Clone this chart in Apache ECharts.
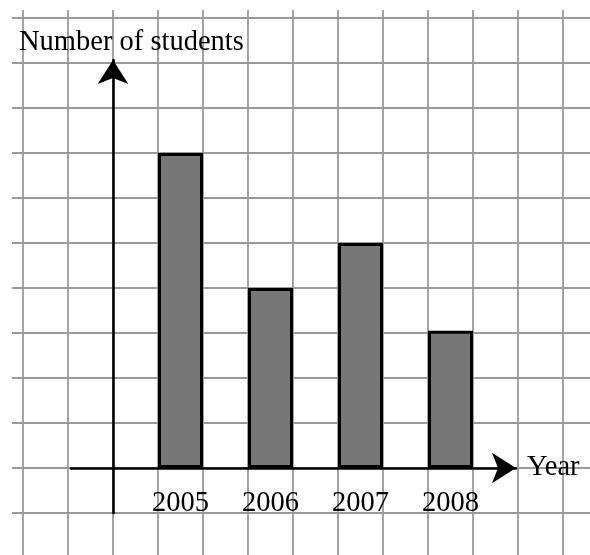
<!DOCTYPE html>
<html>
<head>
<meta charset="utf-8">
<script src="https://cdn.jsdelivr.net/npm/echarts@6/dist/echarts.min.js"></script>
<style>
html,body{margin:0;padding:0;background:#fff;}
#chart{width:590px;height:555px;}
</style>
</head>
<body>
<div id="chart"></div>
<script>
// ---- data ----
const years = ['2005', '2006', '2007', '2008'];
const students = [7, 4, 5, 3.05];
const yTitle = 'Number of students';
const xTitle = 'Year';

// ---- layout constants ----
const W = 590, H = 555;
const U = 45;            // size of one grid square (px)
const OX = 113, OY = 468; // origin of the axes (px)
const FONT = 'Liberation Serif';
const FS = 28.5;
const gridColor = '#9a9a9a';

const hidden = {
  axisLine: { show: false }, axisTick: { show: false },
  axisLabel: { show: false }, splitLine: { show: false }
};

// arrow axis extents
const axL = 71, axR = 516, axT = 60, axB = 513;

const chart = echarts.init(document.getElementById('chart'), null, { renderer: 'canvas' });
chart.setOption({
  animation: false,
  backgroundColor: '#ffffff',
  title: {
    text: yTitle, left: 19, top: 28, padding: 0,
    textStyle: { fontFamily: FONT, fontSize: FS, fontWeight: 'normal', color: '#000' }
  },
  grid: [
    // 0: vertical mesh lines
    { left: 23, right: W - 563, top: 10, bottom: 0 },
    // 1: horizontal mesh lines
    { left: 12, right: 0, top: 18, bottom: H - 513 },
    // 2: bars
    { left: OX + U * 0.5, right: W - (OX + U * 8.5), top: OY - U * 10, bottom: H - OY },
    // 3: arrow axes
    { left: axL, right: W - axR, top: axT, bottom: H - axB }
  ],
  xAxis: [
    { gridIndex: 0, type: 'value', min: -2, max: 10, interval: 1,
      axisLine: { show: false }, axisTick: { show: false }, axisLabel: { show: false },
      splitLine: { show: true, lineStyle: { color: gridColor, width: 1.8 } } },
    Object.assign({ gridIndex: 1, type: 'value', min: 0, max: 1 }, hidden),
    { gridIndex: 2, type: 'category', data: years, boundaryGap: true,
      axisLine: { show: false }, axisTick: { show: false }, splitLine: { show: false },
      axisLabel: { show: true, margin: 21, fontFamily: FONT, fontSize: FS, color: '#000' } },
    { gridIndex: 3, type: 'value', min: (axL - OX) / U, max: (axR - OX) / U, z: 1,
      axisLine: { show: true, onZero: true, symbol: ['none', 'arrow'], symbolSize: [23, 24],
        lineStyle: { color: '#000', width: 2.6 } },
      axisTick: { show: false }, axisLabel: { show: false }, splitLine: { show: false },
      name: xTitle, nameLocation: 'end', nameGap: 11,
      nameTextStyle: { fontFamily: FONT, fontSize: FS, color: '#000' } }
  ],
  yAxis: [
    Object.assign({ gridIndex: 0, type: 'value', min: 0, max: 1 }, hidden),
    { gridIndex: 1, type: 'value', min: -1, max: 10, interval: 1,
      axisLine: { show: false }, axisTick: { show: false }, axisLabel: { show: false },
      splitLine: { show: true, lineStyle: { color: gridColor, width: 1.8 } } },
    Object.assign({ gridIndex: 2, type: 'value', min: 0, max: 10 }, hidden),
    { gridIndex: 3, type: 'value', min: (OY - axB) / U, max: (OY - axT) / U, z: 1,
      axisLine: { show: true, onZero: true, symbol: ['none', 'arrow'], symbolSize: [23, 24],
        lineStyle: { color: '#000', width: 2.6 } },
      axisTick: { show: false }, axisLabel: { show: false }, splitLine: { show: false } }
  ],
  series: [{
    type: 'bar', xAxisIndex: 2, yAxisIndex: 2,
    data: students, barWidth: U,
    itemStyle: { color: '#777777', borderColor: '#000', borderWidth: 3 }
  }]
});
</script>
</body>
</html>
